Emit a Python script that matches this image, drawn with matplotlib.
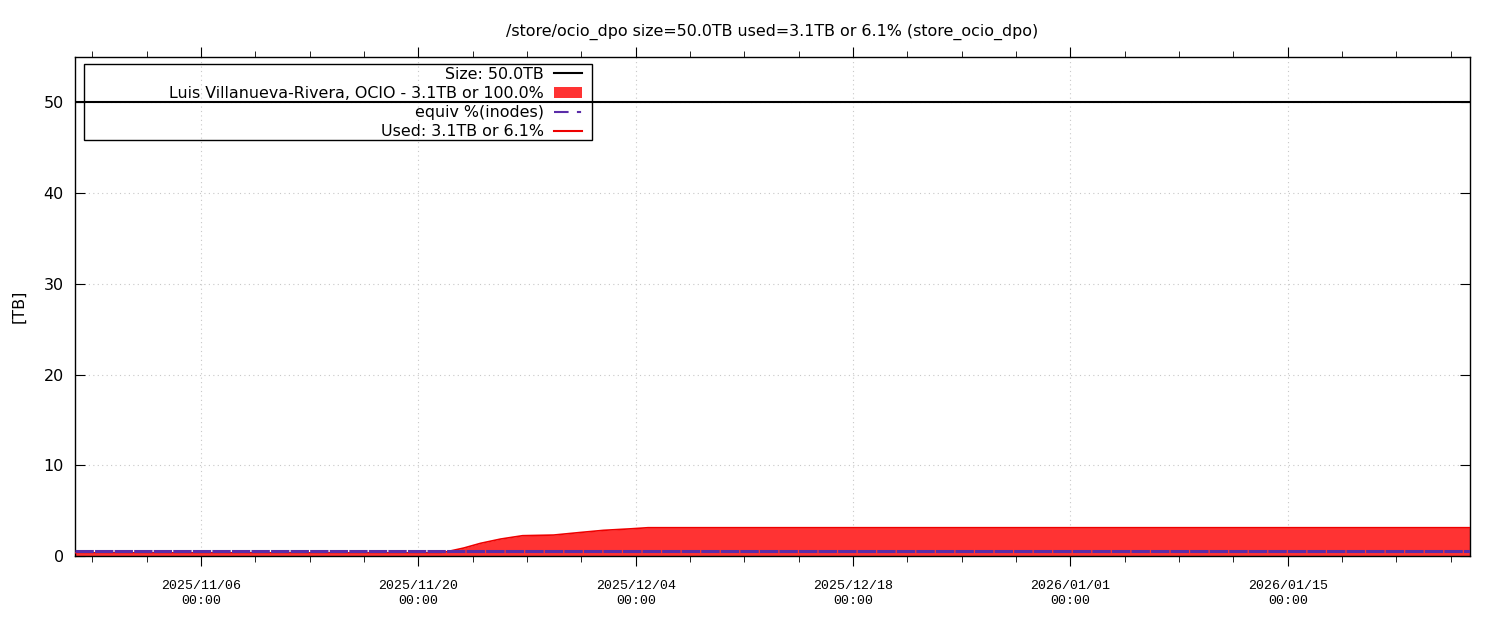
import pandas as pd
import numpy as np
import matplotlib.pyplot as plt
import matplotlib.dates as mdates
from matplotlib.patches import Patch, Rectangle
from matplotlib.lines import Line2D

# quota info
size_tb = 50.0
inodes_tb = 0.55

# used space (TB)
used_dates = ['2025-10-28 21:00', '2025-11-21 12:00', '2025-11-22 22:00', '2025-11-24 00:00',
              '2025-11-25 07:00', '2025-11-26 03:00', '2025-11-26 17:00', '2025-11-28 17:00',
              '2025-11-30 11:00', '2025-12-01 22:00', '2025-12-03 17:00', '2025-12-04 19:00',
              '2026-01-26 17:45']
used_tb = [0.35, 0.35, 0.88, 1.4, 1.87, 2.09, 2.24, 2.31, 2.6, 2.83, 3.0, 3.12, 3.12]

x_start = pd.Timestamp('2025-10-28 21:00')
x_end = pd.Timestamp('2026-01-26 17:45')

used = pd.Series(used_tb, index=pd.to_datetime(used_dates))

fig = plt.figure(figsize=(15, 6.2), dpi=100)
ax = fig.add_axes([0.05, 0.1032, 0.93, 0.805])

ax.fill_between(used.index, 0, used.values, color='#ff3333', lw=0, zorder=2)
ax.plot(used.index, used.values, color='#ee0000', lw=1.2, zorder=3)
ax.plot([x_start, x_end], [inodes_tb, inodes_tb], color='#5a2ca8', lw=2.2,
        dashes=(6, 0.4), zorder=4)
ax.axhline(size_tb, color='black', lw=1.5, zorder=5)

ax.set_ylim(0, 55)
ax.set_yticks([0, 10, 20, 30, 40, 50])

major = pd.date_range('2025-10-23', '2026-02-01', freq='14D')
minor = pd.date_range('2025-10-23', '2026-02-01', freq='84h')
ax.set_xticks(major)
ax.set_xticks(minor, minor=True)
ax.xaxis.set_major_formatter(mdates.DateFormatter('%Y/%m/%d\n%H:%M'))
ax.set_xlim(x_start, x_end)

ax.tick_params(axis='x', which='major', direction='out', length=7, top=True, labelsize=9.5, pad=10)
ax.tick_params(axis='x', which='minor', direction='out', length=4, top=True)
ax.tick_params(axis='y', which='major', direction='in', length=7, right=True, labelsize=11.5, pad=8)
for lbl in ax.get_xticklabels():
    lbl.set_family('Liberation Mono')
    lbl.set_linespacing(1.4)

ax.grid(True, which='major', color='#c8c8c8', ls=(0, (1, 3)), lw=0.8)
ax.set_axisbelow(True)
for s in ax.spines.values():
    s.set_linewidth(1)

ax.set_ylabel('[TB]', fontsize=11.5, labelpad=12)
ax.set_title('/store/ocio_dpo size=50.0TB used=3.1TB or 6.1% (store_ocio_dpo)',
             fontsize=11.4, pad=15)

handles = [Line2D([], [], color='black', lw=1.5),
           Patch(facecolor='#ff3333', edgecolor='none'),
           Line2D([], [], color='#5a2ca8', lw=1.5, dashes=(7, 4, 2, 4)),
           Line2D([], [], color='#ee0000', lw=1.5)]
labels = ['Size: 50.0TB', 'Luis Villanueva-Rivera, OCIO - 3.1TB or 100.0%',
          'equiv %(inodes)', 'Used: 3.1TB or 6.1%']
leg = ax.legend(handles, labels, loc='upper right', bbox_to_anchor=(0.3654, 0.987),
                markerfirst=False, fontsize=11.45, frameon=False,
                handlelength=1.75, handleheight=0.7,
                labelspacing=0.27, borderpad=0.2, handletextpad=0.6, borderaxespad=0)
ax.add_patch(Rectangle((0.00645, 0.8337), 0.3642, 0.1523, transform=ax.transAxes,
                       fill=False, edgecolor='black', lw=1, zorder=6))

fig.savefig('out.png', dpi=100)
